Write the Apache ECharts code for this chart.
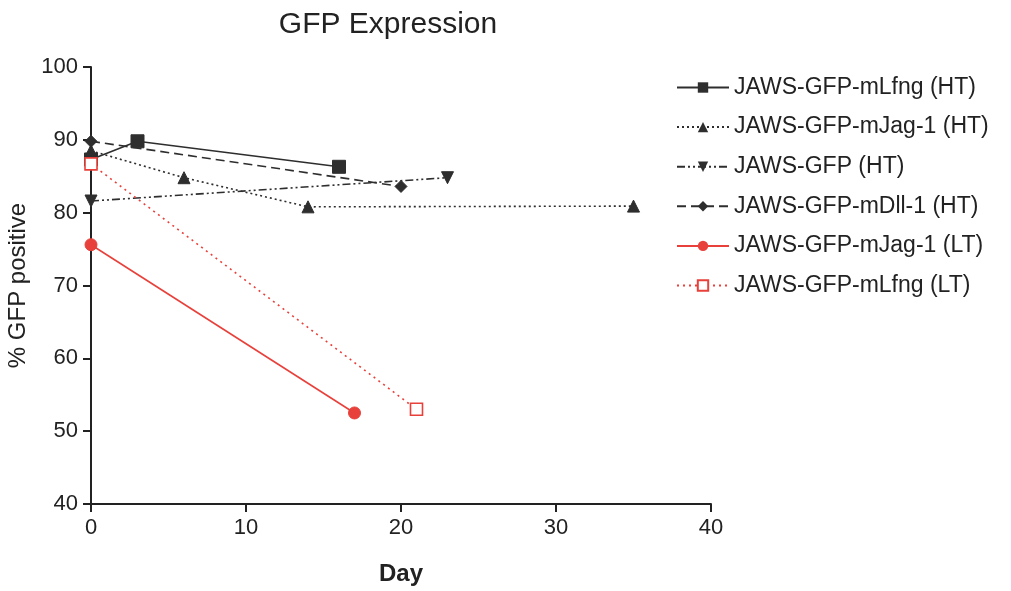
<!DOCTYPE html>
<html><head><meta charset="utf-8">
<script src="https://cdn.jsdelivr.net/npm/echarts@6/dist/echarts.min.js"></script>
<style>html,body{margin:0;padding:0;background:#fff}#c{width:1011px;height:591px}</style>
</head><body><div id="c"></div>
<script>
const seriesNames = ['JAWS-GFP-mLfng (HT)','JAWS-GFP-mJag-1 (HT)','JAWS-GFP (HT)','JAWS-GFP-mDll-1 (HT)','JAWS-GFP-mJag-1 (LT)','JAWS-GFP-mLfng (LT)'];
const lfngHTDays = [0, 3, 16];
const lfngHTVals = [87.3, 89.8, 86.3];
const jagHTDays = [0, 6, 14, 35];
const jagHTVals = [88.5, 84.8, 80.8, 80.9];
const gfpHTDays = [0, 23];
const gfpHTVals = [81.6, 84.8];
const dllHTDays = [0, 20];
const dllHTVals = [89.8, 83.6];
const jagLTDays = [0, 17];
const jagLTVals = [75.6, 52.5];
const lfngLTDays = [0, 21];
const lfngLTVals = [86.7, 53.0];
const xTicks = [0, 10, 20, 30, 40];
const yTicks = [40, 50, 60, 70, 80, 90, 100];

const dark = '#2e2e2e', red = '#e8403a';
function pts(d, v){ return d.map((x,i)=>[x, v[i]]); }
const font = 'Liberation Sans, Arial, sans-serif';
const chart = echarts.init(document.getElementById('c'));
function s(name, data, color, lineType, symbol, size, extra){
  return Object.assign({
    name, type:'line', data, symbol, symbolSize:size,
    lineStyle:{color, width:1.6, type:lineType},
    itemStyle:{color, borderColor:color},
    emphasis:{disabled:true}, animation:false
  }, extra||{});
}
chart.setOption({
  backgroundColor:'#fff',
  title:{text:'GFP Expression', left:383, top:5, textAlign:'center',
    textStyle:{fontFamily:font, fontSize:30, fontWeight:'normal', color:'#222'}},
  grid:{left:91, right:300, top:67, bottom:87, outerBoundsMode:'none', containLabel:false},
  xAxis:{type:'value', min:0, max:40, interval:10,
    name:'Day', nameLocation:'middle', nameGap:58,
    nameTextStyle:{fontFamily:font, fontSize:24, fontWeight:'bold', color:'#222'},
    axisLine:{lineStyle:{color:'#222', width:2}},
    axisTick:{show:true, length:8, lineStyle:{color:'#222', width:2}},
    axisLabel:{fontFamily:font, fontSize:22, color:'#222', margin:13},
    splitLine:{show:false}},
  yAxis:{type:'value', min:40, max:100, interval:10,
    name:'% GFP positive', nameLocation:'middle', nameGap:59, nameRotate:90,
    nameTextStyle:{fontFamily:font, fontSize:24, color:'#222'},
    axisLine:{show:true, lineStyle:{color:'#222', width:2}},
    axisTick:{show:true, length:8, lineStyle:{color:'#222', width:2}},
    axisLabel:{fontFamily:font, fontSize:22, color:'#222', margin:13},
    splitLine:{show:false}},
  legend:{orient:'vertical', left:671, top:71, itemGap:16.6, itemWidth:52, itemHeight:13,
    data:seriesNames,
    textStyle:{fontFamily:font, fontSize:23, color:'#222'}},
  series:[
    s(seriesNames[0], pts(lfngHTDays, lfngHTVals), dark, 'solid', 'rect', 13),
    s(seriesNames[1], pts(jagHTDays, jagHTVals), dark, [2,3], 'triangle', 12),
    s(seriesNames[2], pts(gfpHTDays, gfpHTVals), dark, [8,3,2,3,2,3], 'path://M0,0 L10,0 L5,10 Z', 12),
    s(seriesNames[3], pts(dllHTDays, dllHTVals), dark, [9,5], 'diamond', 12),
    s(seriesNames[4], pts(jagLTDays, jagLTVals), red, 'solid', 'circle', 12),
    s(seriesNames[5], pts(lfngLTDays, lfngLTVals), red, [2,4], 'rect', 12,
      {itemStyle:{color:'#fff', borderColor:red, borderWidth:1.6}})
  ]
});
</script></body></html>
